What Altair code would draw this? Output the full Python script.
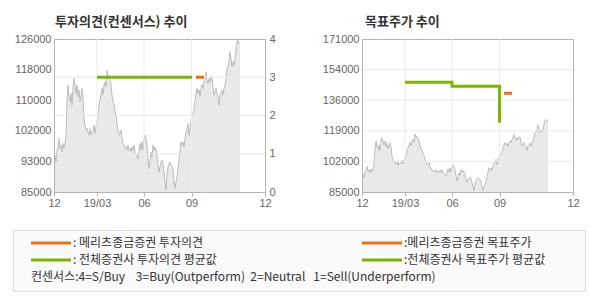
import altair as alt
import pandas as pd

KR = "Noto Sans CJK KR"
AX = "Liberation Sans"

# ---- data ----
prices = [
    95300, 94850, 93060, 96200, 97090, 99330, 96640, 97540, 95750, 97990,
    96640, 97990, 100220, 109170, 113650, 110520, 109170, 111410, 108280, 112750,
    115440, 113650, 111410, 113650, 110520, 112310, 109170, 110960, 112750, 110520,
    104700, 102910, 101570, 102010, 101120, 100220, 102010, 100220, 101120, 101120,
    102910, 100670, 102460, 103800, 105100, 108280, 109800, 111410, 112750, 110960,
    113650, 114540, 113200, 117680, 115890, 116330, 114990, 113650, 110960, 109170,
    108730, 106490, 105590, 103360, 101570, 100220, 100670, 101570, 99330, 97990,
    97540, 96640, 97090, 96200, 97540, 96200, 96640, 95750, 97090, 96200,
    97540, 95750, 95300, 94850, 93960, 95750, 97990, 96200, 98430, 96200,
    99330, 100220, 99330, 97540, 93960, 91270, 93060, 95750, 94410, 97540,
    96200, 97090, 96200, 94850, 92170, 90380, 91720, 93060, 93510, 92620,
    90380, 87690, 85460, 89480, 91720, 92620, 93060, 92170, 91720, 91270,
    87690, 85900, 87690, 89040, 91270, 93510, 96200, 98430, 97540, 98430,
    97090, 99330, 101120, 102010, 103360, 100220, 102010, 104250, 105590, 106000,
    107000, 109500, 111410, 112750, 111410, 112310, 110520, 112750, 113650, 112750,
    114540, 115440, 117230, 114990, 114100, 115440, 114540, 115890, 115890, 113200,
    110960, 111860, 112750, 111410, 110520, 108280, 110960, 111410, 112310, 110960,
    112750, 113650, 115440, 118120, 118570, 119910, 122600, 120810, 118570, 119910,
    119020, 120810, 123050, 125280, 125730, 124840, 124840,
]
days = list(range(len(prices)))

x_domain = [0, 211]
x_tick_vals = [0, 43, 90, 137.5, 211]
x_tick_labels = ["12", "19/03", "06", "09", "12"]

op_ticks = [0, 1, 2, 3, 4]
lp_ticks = [85000, 93200, 101400, 109600, 117800, 126000]
lp_labels = ["85000", "93000", "102000", "110000", "118000", "126000"]
rp_ticks = [85000, 102200, 119400, 136600, 153800, 171000]
rp_labels = ["85000", "102000", "119000", "136000", "154000", "171000"]

op_green_x = [43, 138]
op_green_y = [3, 3]
op_orange_x = [142, 150]
op_orange_y = [3, 3]
tp_green_x = [43, 90, 90, 137.5, 137.5]
tp_green_y = [146700, 146700, 144450, 144450, 123900]
tp_orange_x = [142, 150]
tp_orange_y = [140500, 140500]

legend_labels = [": 메리츠종금증권 투자의견", ":메리츠종금증권 목표주가",
                 ": 전체증권사 투자의견 평균값", ":전체증권사 목표주가 평균값"]
note_text = "컨센서스:4=S/Buy    3=Buy(Outperform)  2=Neutral   1=Sell(Underperform)"

ORANGE = "#f07010"
GREEN = "#7ab800"
legend_colors = [ORANGE, ORANGE, GREEN, GREEN]
legend_cols = [0, 1, 0, 1]
legend_rows = [0, 0, 1, 1]

FRAME = "#b4b4b4"
GRID = "#ebebeb"
LABEL = "#666666"

# ---- helpers ----
def label_expr(vals, labels):
    expr = "''"
    for v, l in reversed(list(zip(vals, labels))):
        expr = f"abs(datum.value - {v}) < 0.01 ? '{l}' : ({expr})"
    return expr

price_df = pd.DataFrame({"day": days, "price": prices})
vgrid_df = pd.DataFrame({"x": x_tick_vals[1:-1]})

x_scale = alt.Scale(domain=x_domain, nice=False, zero=False)
x_axis = alt.Axis(values=x_tick_vals, labelExpr=label_expr(x_tick_vals, x_tick_labels),
                  title=None, grid=False, tickSize=4, tickColor=FRAME, domainColor=FRAME,
                  labelPadding=1, labelFont=AX, labelFontSize=11,
                  labelColor=LABEL, zindex=1, labelFlush=False)

W, H = 211, 153


def xenc(field):
    return alt.X(field, type="quantitative", scale=x_scale, axis=x_axis)


def panel(title, y_dom, y_vals, y_labels, grid_vals, grid_scale_dom, grid_axis,
          green_x, green_y, orange_x, orange_y, two_scales, min_ext, title_dx):
    y_scale = alt.Scale(domain=y_dom, nice=False, zero=False)
    y_axis = alt.Axis(values=y_vals, labelExpr=label_expr(y_vals, y_labels), title=None,
                      grid=False, ticks=False, labelPadding=3, domainColor=FRAME,
                      labelFont=AX, labelFontSize=11, labelColor=LABEL, zindex=1,
                      orient="left", labelFlush=False, minExtent=min_ext)
    area = alt.Chart(price_df).mark_area(
        color="#e0e0e0", line={"color": "#bdbdbd", "strokeWidth": 1}, clip=True
    ).encode(x=xenc("day"), y=alt.Y("price:Q", scale=y_scale, axis=y_axis),
             y2=alt.datum(y_dom[0]))

    if two_scales:
        g_scale = alt.Scale(domain=grid_scale_dom, nice=False, zero=False)
        g_axis = grid_axis
    else:
        g_scale = y_scale
        g_axis = y_axis

    vgrid = alt.Chart(vgrid_df).mark_rule(color=GRID, strokeWidth=1).encode(x=xenc("x"))
    hgrid = alt.Chart(pd.DataFrame({"v": grid_vals})).mark_rule(
        color=GRID, strokeWidth=1).encode(y=alt.Y("v:Q", scale=g_scale, axis=g_axis))
    gdf = pd.DataFrame({"x": green_x, "y": green_y, "o": list(range(len(green_x)))})
    odf = pd.DataFrame({"x": orange_x, "y": orange_y, "o": list(range(len(orange_x)))})
    green = alt.Chart(gdf).mark_line(color=GREEN, strokeWidth=3, strokeCap="butt").encode(
        x=xenc("x"), y=alt.Y("y:Q", scale=g_scale, axis=g_axis), order="o:Q")
    orange = alt.Chart(odf).mark_line(color=ORANGE, strokeWidth=3, strokeCap="butt").encode(
        x=xenc("x"), y=alt.Y("y:Q", scale=g_scale, axis=g_axis), order="o:Q")
    inner = alt.layer(vgrid, hgrid, green, orange)
    if two_scales:
        ch = alt.layer(area, inner).resolve_scale(y="independent")
    else:
        ch = alt.layer(area, inner)
    return ch.properties(
        width=W, height=H,
        title=alt.TitleParams(title, anchor="start", frame="group", font=KR, fontSize=13,
                              fontWeight="bold", color="#333333", offset=4, dx=title_dx),
    )


op_axis = alt.Axis(values=op_ticks, title=None, grid=False, ticks=False, labelPadding=4,
                   domainColor=FRAME, labelFont=AX, labelFontSize=11, labelColor=LABEL,
                   zindex=1, orient="right", labelFlush=False, minExtent=30)

left = panel("투자의견(컨센서스) 추이", [85000, 126000], lp_ticks, lp_labels,
             op_ticks[1:-1], [0, 4], op_axis,
             op_green_x, op_green_y, op_orange_x, op_orange_y, True, 45, 1)
right = panel("목표주가 추이", [85000, 171000], rp_ticks, rp_labels,
              rp_ticks[1:-1], None, None,
              tp_green_x, tp_green_y, tp_orange_x, tp_orange_y, False, 73, 3)

# invisible 1px spacer that anchors the row's left edge to the legend box
spacer = alt.Chart(pd.DataFrame({"s": [0]})).mark_point(opacity=0).encode(
    x=alt.value(0), y=alt.value(0)
).properties(width=1, height=1, view=alt.ViewBackground(strokeOpacity=0, fillOpacity=0))

# ---- legend box ----
leg_df = pd.DataFrame({"label": legend_labels, "color": legend_colors,
                       "col": legend_cols, "row": legend_rows})
note_df = pd.DataFrame({"label": [note_text.replace(" ", "\u00a0")], "col": [0], "row": [2]})
lx = alt.X("col:Q", scale=alt.Scale(domain=[0, 1], range=[18, 349]), axis=None)
ly = alt.Y("row:Q", scale=alt.Scale(domain=[0, 2], range=[13, 47]), axis=None)
sym = alt.Chart(leg_df).mark_point(shape="stroke", size=1600, strokeWidth=3, opacity=1,
                                    xOffset=20).encode(
    x=lx, y=ly, color=alt.Color("color:N", scale=None))
txt = alt.Chart(leg_df).mark_text(align="left", baseline="middle", dx=42, font=KR,
                                   fontSize=12, color="#333333").encode(
    x=lx, y=ly, text="label:N")
note = alt.Chart(note_df).mark_text(align="left", baseline="middle", font=KR,
                                     fontSize=12, color="#333333").encode(
    x=lx, y=ly, text="label:N")
legend_box = alt.layer(sym, txt, note).properties(
    width=572, height=61,
    view=alt.ViewBackground(fill="#fafafa", stroke="#dddddd", strokeWidth=1),
)

top = alt.hconcat(spacer, left, right, spacing=-8)
chart = alt.vconcat(top, legend_box, spacing=20).properties(
    padding={"left": 8, "top": 15, "right": 0, "bottom": 0},
    background="white",
).configure_view(stroke=FRAME, strokeWidth=1)

chart.save("out.html", embed_options={"renderer": "svg", "actions": False})
